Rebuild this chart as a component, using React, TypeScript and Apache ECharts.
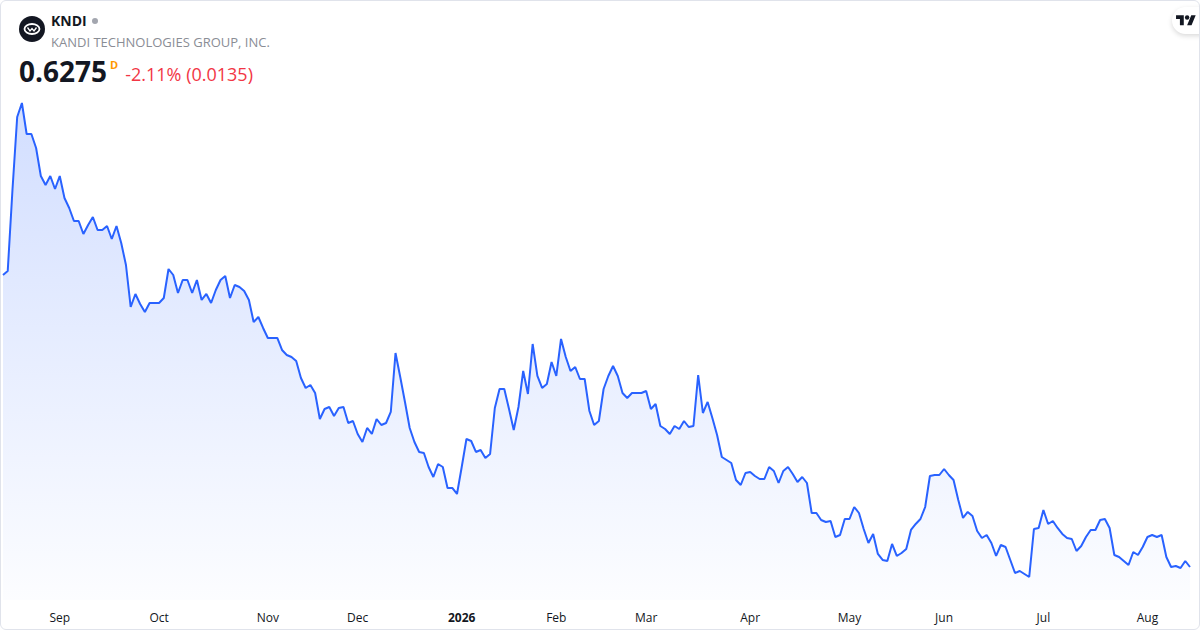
import { useEffect, useRef } from 'react';
import * as echarts from 'echarts';

// daily closes, one array per month (trading days only)
const aug2025 = [1.2845, 1.2935, 1.4758, 1.64, 1.6715, 1.6018, 1.6018, 1.5703, 1.5073, 1.487, 1.5073, 1.478];
const sep2025 = [
  1.5073, 1.4578, 1.4353, 1.406, 1.406, 1.3768, 1.397, 1.415, 1.3858, 1.3858, 1.3948, 1.3655, 1.3948, 1.3565,
  1.307, 1.2125, 1.2418, 1.2193, 1.2013, 1.2215, 1.2215,
];
const oct2025 = [
  1.2215, 1.2328, 1.298, 1.2845, 1.244, 1.2733, 1.2733, 1.244, 1.2733, 1.2283, 1.2418, 1.2215, 1.2508, 1.2733,
  1.2823, 1.2328, 1.262, 1.2575, 1.2485, 1.2283, 1.1788, 1.19, 1.1653,
];
const nov2025 = [
  1.1428, 1.1428, 1.1428, 1.1158, 1.1045, 1.1, 1.091, 1.0528, 1.0303, 1.037, 1.019, 0.9605, 0.983, 0.9875, 0.9673,
  0.9853, 0.9875, 0.9515, 0.956,
];
const dec2025 = [
  0.9268, 0.9088, 0.9403, 0.9268, 0.9605, 0.947, 0.9515, 0.9763, 1.109, 1.055, 0.9988, 0.9403, 0.9088, 0.8863, 0.884,
  0.8525, 0.83, 0.8593, 0.8525, 0.8053, 0.8053, 0.7918,
];
const jan2026 = [
  0.8525, 0.9155, 0.911, 0.8863, 0.8908, 0.8728, 0.8818, 0.9853, 1.028, 1.028, 0.983, 0.9358, 0.9875, 1.0685, 1.0168,
  1.1293, 1.0573, 1.0303, 1.0393, 1.0888,
];
const feb2026 = [
  1.0573, 1.1405, 1.1, 1.0685, 1.0775, 1.0505, 1.0505, 0.9785, 0.947, 0.956, 1.028, 1.0573, 1.0798, 1.0573, 1.019,
  1.0078, 1.019, 1.019, 1.019,
];
const mar2026 = [
  1.0235, 0.983, 0.9943, 0.9448, 0.938, 0.9268, 0.9448, 0.938, 0.956, 0.9425, 0.9448, 1.0595, 0.974, 0.9988, 0.9628,
  0.9245, 0.875, 0.8683, 0.8615, 0.8233, 0.812, 0.839,
];
const apr2026 = [
  0.8413, 0.8323, 0.8255, 0.8255, 0.8525, 0.8435, 0.8165, 0.8435, 0.8525, 0.8368, 0.8188, 0.83, 0.8165, 0.749, 0.749,
  0.7333, 0.7288, 0.731, 0.695, 0.6995, 0.7355,
];
const may2026 = [
  0.7355, 0.7625, 0.749, 0.713, 0.6815, 0.7018, 0.6568, 0.6433, 0.641, 0.6793, 0.6523, 0.659, 0.668, 0.7108, 0.7243,
  0.7355, 0.7625, 0.8323, 0.8345, 0.8345,
];
const jun2026 = [
  0.848, 0.8345, 0.8233, 0.7783, 0.7378, 0.7513, 0.7423, 0.7085, 0.6928, 0.6995, 0.6815, 0.6523, 0.677, 0.6725, 0.6433,
  0.614, 0.6185, 0.6118, 0.605, 0.713, 0.7153,
];
const jul2026 = [
  0.7558, 0.7243, 0.731, 0.7153, 0.7018, 0.6928, 0.6905, 0.6635, 0.6748, 0.695, 0.7108, 0.7108, 0.7333, 0.7355, 0.7153,
  0.6545, 0.65, 0.641, 0.632, 0.6613, 0.6545, 0.6725,
];
const aug2026 = [0.695, 0.6995, 0.695, 0.6995, 0.65, 0.6275, 0.6298, 0.6253, 0.641, 0.6275];

const closes = [
  ...aug2025, ...sep2025, ...oct2025, ...nov2025, ...dec2025, ...jan2026,
  ...feb2026, ...mar2026, ...apr2026, ...may2026, ...jun2026, ...jul2026, ...aug2026,
];

const firstDay = '2025-08-14';
const holidays = [
  '2025-09-01', '2025-11-27', '2025-12-25', '2026-01-01', '2026-01-19', '2026-02-16',
  '2026-04-03', '2026-05-25', '2026-06-19', '2026-07-03',
];
const monthNames = ['Jan', 'Feb', 'Mar', 'Apr', 'May', 'Jun', 'Jul', 'Aug', 'Sep', 'Oct', 'Nov', 'Dec'];

function tradingDays(start: string, count: number) {
  const out: string[] = [];
  const d = new Date(start + 'T00:00:00Z');
  while (out.length < count) {
    const iso = d.toISOString().slice(0, 10);
    const wd = d.getUTCDay();
    if (wd !== 0 && wd !== 6 && !holidays.includes(iso)) out.push(iso);
    d.setUTCDate(d.getUTCDate() + 1);
  }
  return out;
}

const dates = tradingDays(firstDay, closes.length);

const FONT = '"Open Sans", sans-serif';

export default function App() {
  const chartRef = useRef<HTMLDivElement>(null);
  useEffect(() => {
    if (!chartRef.current) return;
    const chart = echarts.init(chartRef.current, undefined, { renderer: 'svg' });
    chart.setOption({
      animation: false,
      grid: { left: 3, right: 10, top: 100, bottom: 30 },
      xAxis: {
        type: 'category',
        data: dates,
        boundaryGap: false,
        axisLine: { show: false },
        axisTick: { show: false },
        splitLine: { show: false },
        axisLabel: {
          interval: (i: number) => i > 0 && dates[i].slice(0, 7) !== dates[i - 1].slice(0, 7),
          hideOverlap: false,
          formatter: (v: string) => {
            const m = Number(v.slice(5, 7));
            return m === 1 ? '{y|' + v.slice(0, 4) + '}' : monthNames[m - 1];
          },
          color: '#131722',
          fontSize: 12,
          fontFamily: FONT,
          margin: 11,
          rich: { y: { fontWeight: 'bold', fontSize: 12, fontFamily: FONT, color: '#131722' } },
        },
      },
      yAxis: {
        type: 'value',
        show: false,
        min: 0.55325,
        max: 1.67825,
        splitLine: { show: false },
      },
      series: [
        {
          type: 'line',
          data: closes,
          symbol: 'none',
          lineStyle: { color: '#2962ff', width: 2 },
          areaStyle: {
            origin: 'start',
            color: new echarts.graphic.LinearGradient(0, 0, 0, 1, [
              { offset: 0, color: 'rgba(41,98,255,0.3)' },
              { offset: 1, color: 'rgba(41,98,255,0.02)' },
            ]),
          },
        },
      ],
    });
    return () => chart.dispose();
  }, []);

  return (
    <div
      style={{
        position: 'fixed',
        left: 0,
        top: 0,
        width: 1200,
        height: 630,
        boxSizing: 'border-box',
        border: '1px solid #e0e3eb',
        borderRadius: 6,
        background: '#fff',
        overflow: 'hidden',
        fontFamily: FONT,
      }}
    >
      <div ref={chartRef} style={{ position: 'absolute', left: -1, top: -1, width: 1200, height: 630 }} />
      <svg width={26} height={26} viewBox="0 0 26 26" style={{ position: 'absolute', left: 18, top: 15 }}>
        <circle cx={13} cy={13} r={13} fill="#131722" />
        <ellipse cx={13} cy={13} rx={7.5} ry={5} fill="none" stroke="#fff" strokeWidth={1.8} />
        <path d="M8.5 11.5 L11 15 L13 12.5 L15 15 L17.5 11.5" fill="none" stroke="#fff" strokeWidth={1.3} />
      </svg>
      <div style={{ position: 'absolute', left: 50, top: 11, fontSize: 14, fontWeight: 700, color: '#131722', lineHeight: '18px' }}>
        KNDI
        <span style={{ display: 'inline-block', width: 6, height: 6, borderRadius: 3, background: '#a3a6af', marginLeft: 5, verticalAlign: 2 }} />
      </div>
      <div style={{ position: 'absolute', left: 50, top: 32, fontSize: 13, color: '#8a8d95', lineHeight: '18px' }}>
        KANDI TECHNOLOGIES GROUP, INC.
      </div>
      <div style={{ position: 'absolute', left: 18, top: 51, whiteSpace: 'nowrap', lineHeight: '38px' }}>
        <span style={{ fontSize: 28, fontWeight: 700, color: '#131722' }}>0.6275</span>
        <span style={{ fontSize: 11, fontWeight: 700, color: '#ff9800', position: 'relative', top: -13, marginLeft: 3 }}>D</span>
        <span style={{ fontSize: 18, color: '#f23645', marginLeft: 7, position: 'relative', top: -1 }}>-2.11% (0.0135)</span>
      </div>
      <div
        style={{
          position: 'absolute',
          left: 1171,
          top: 6,
          width: 44,
          height: 27,
          borderRadius: 14,
          background: '#fff',
          boxShadow: '0 2px 5px rgba(0,0,0,0.15)',
        }}
      >
        <svg width={20} height={15.5} viewBox="0 0 36 28" style={{ position: 'absolute', left: 4, top: 6 }}>
          <path d="M14 22H7V11H0V4h14v18zM28 22h-8l7.5-18h8L28 22z" fill="#131722" />
          <circle cx={20} cy={8} r={4} fill="#131722" />
        </svg>
      </div>
    </div>
  );
}
